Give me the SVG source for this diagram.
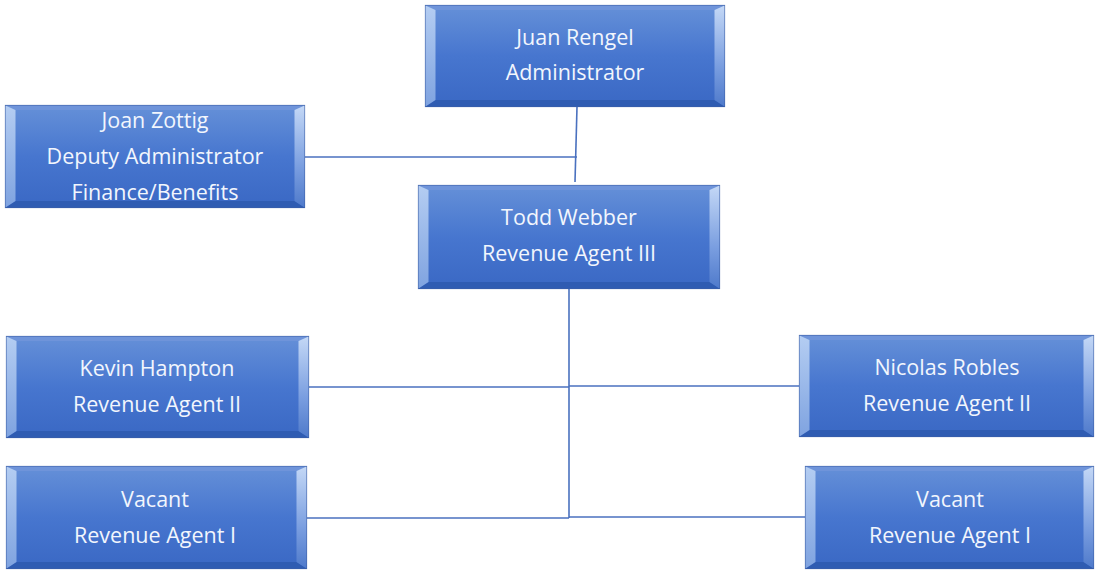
<svg xmlns="http://www.w3.org/2000/svg" width="1095" height="571" viewBox="0 0 1095 571">
<defs>
<linearGradient id="face" x1="0" y1="0" x2="0" y2="1">
<stop offset="0" stop-color="#6590d8"/>
<stop offset="0.5" stop-color="#4776cf"/>
<stop offset="1" stop-color="#3a68c4"/>
</linearGradient>
<linearGradient id="lside" x1="0" y1="0" x2="0" y2="1">
<stop offset="0" stop-color="#b4cdf2"/>
<stop offset="1" stop-color="#7fa3e0"/>
</linearGradient>
<linearGradient id="rside" x1="0" y1="0" x2="0" y2="1">
<stop offset="0" stop-color="#c4d8f6"/>
<stop offset="0.6" stop-color="#7a9ee0"/>
<stop offset="1" stop-color="#4f7acb"/>
</linearGradient>
<style>
.frame{stroke:#3c5fa6;stroke-width:1.2;fill:url(#face)}
.top{fill:#6f94da}
.bot{fill:#2f5cb2}
.ls{fill:url(#lside)}
.rs{fill:url(#rside)}
.t{font-family:"Open Sans","Liberation Sans",sans-serif;font-size:21.5px;fill:#f2f6fd;text-anchor:middle}
.c{stroke:#4a71bf;stroke-width:1.6;fill:none}
</style>
</defs>
<rect width="1095" height="571" fill="#ffffff"/>
<g id="connectors">
<path class="c" d="M577 107 L575 182"/>
<path class="c" d="M305 157 L577 157"/>
<path class="c" d="M569 289 L569 518"/>
<path class="c" d="M309 387 L569 387"/>
<path class="c" d="M569 386 L799 386"/>
<path class="c" d="M307 518 L569 518"/>
<path class="c" d="M569 517 L805 517"/>
</g>
<g id="juan">
<rect class="frame" x="425.5" y="5.5" width="299" height="101"/>
<polygon class="top" points="425.5,5.5 724.5,5.5 714.5,10 435.5,10"/>
<polygon class="bot" points="425.5,106.5 435.5,100 714.5,100 724.5,106.5"/>
<polygon class="ls" points="425.5,5.5 435.5,10 435.5,100 425.5,106.5"/>
<polygon class="rs" points="724.5,5.5 714.5,10 714.5,100 724.5,106.5"/>
<text class="t" x="575" y="45">Juan Rengel</text>
<text class="t" x="575" y="80">Administrator</text>
</g>
<g id="joan">
<rect class="frame" x="5.5" y="105.5" width="299" height="102"/>
<polygon class="top" points="5.5,105.5 304.5,105.5 294.5,110 15.5,110"/>
<polygon class="bot" points="5.5,207.5 15.5,201 294.5,201 304.5,207.5"/>
<polygon class="ls" points="5.5,105.5 15.5,110 15.5,201 5.5,207.5"/>
<polygon class="rs" points="304.5,105.5 294.5,110 294.5,201 304.5,207.5"/>
<text class="t" x="155" y="128">Joan Zottig</text>
<text class="t" x="155" y="164">Deputy Administrator</text>
<text class="t" x="155" y="200">Finance/Benefits</text>
</g>
<g id="todd">
<rect class="frame" x="418.5" y="185.5" width="301" height="103"/>
<polygon class="top" points="418.5,185.5 719.5,185.5 709.5,190 428.5,190"/>
<polygon class="bot" points="418.5,288.5 428.5,282 709.5,282 719.5,288.5"/>
<polygon class="ls" points="418.5,185.5 428.5,190 428.5,282 418.5,288.5"/>
<polygon class="rs" points="719.5,185.5 709.5,190 709.5,282 719.5,288.5"/>
<text class="t" x="569" y="225">Todd Webber</text>
<text class="t" x="569" y="261">Revenue Agent III</text>
</g>
<g id="kevin">
<rect class="frame" x="6.5" y="336.5" width="302" height="101"/>
<polygon class="top" points="6.5,336.5 308.5,336.5 298.5,341 16.5,341"/>
<polygon class="bot" points="6.5,437.5 16.5,431 298.5,431 308.5,437.5"/>
<polygon class="ls" points="6.5,336.5 16.5,341 16.5,431 6.5,437.5"/>
<polygon class="rs" points="308.5,336.5 298.5,341 298.5,431 308.5,437.5"/>
<text class="t" x="157" y="376">Kevin Hampton</text>
<text class="t" x="157" y="412">Revenue Agent II</text>
</g>
<g id="nicolas">
<rect class="frame" x="799.5" y="335.5" width="294" height="101"/>
<polygon class="top" points="799.5,335.5 1093.5,335.5 1083.5,340 809.5,340"/>
<polygon class="bot" points="799.5,436.5 809.5,430 1083.5,430 1093.5,436.5"/>
<polygon class="ls" points="799.5,335.5 809.5,340 809.5,430 799.5,436.5"/>
<polygon class="rs" points="1093.5,335.5 1083.5,340 1083.5,430 1093.5,436.5"/>
<text class="t" x="947" y="375">Nicolas Robles</text>
<text class="t" x="947" y="411">Revenue Agent II</text>
</g>
<g id="vacant-left">
<rect class="frame" x="6.5" y="466.5" width="300" height="102"/>
<polygon class="top" points="6.5,466.5 306.5,466.5 296.5,471 16.5,471"/>
<polygon class="bot" points="6.5,568.5 16.5,562 296.5,562 306.5,568.5"/>
<polygon class="ls" points="6.5,466.5 16.5,471 16.5,562 6.5,568.5"/>
<polygon class="rs" points="306.5,466.5 296.5,471 296.5,562 306.5,568.5"/>
<text class="t" x="155" y="507">Vacant</text>
<text class="t" x="155" y="543">Revenue Agent I</text>
</g>
<g id="vacant-right">
<rect class="frame" x="805.5" y="466.5" width="288" height="102"/>
<polygon class="top" points="805.5,466.5 1093.5,466.5 1083.5,471 815.5,471"/>
<polygon class="bot" points="805.5,568.5 815.5,562 1083.5,562 1093.5,568.5"/>
<polygon class="ls" points="805.5,466.5 815.5,471 815.5,562 805.5,568.5"/>
<polygon class="rs" points="1093.5,466.5 1083.5,471 1083.5,562 1093.5,568.5"/>
<text class="t" x="950" y="507">Vacant</text>
<text class="t" x="950" y="543">Revenue Agent I</text>
</g>
</svg>
